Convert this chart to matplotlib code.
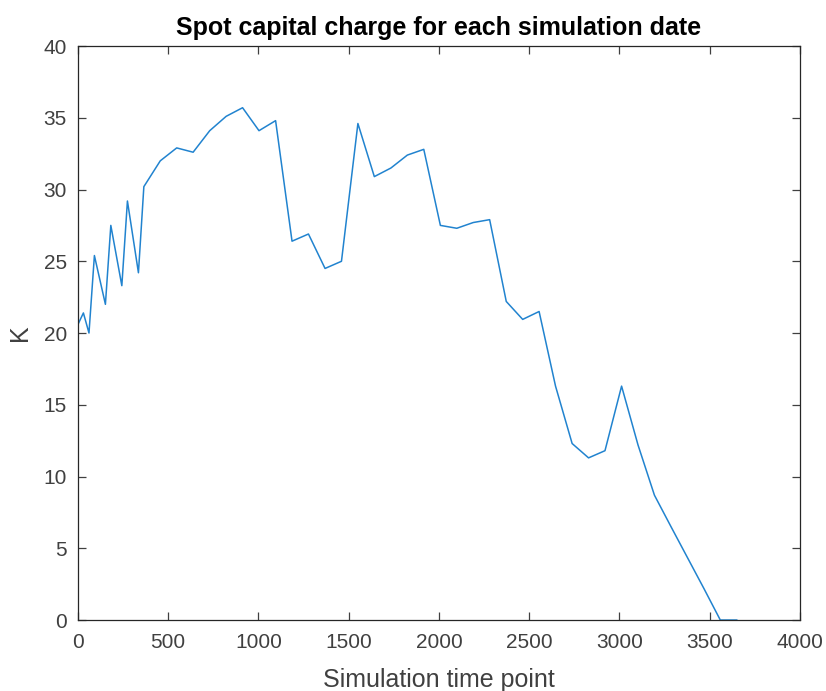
import numpy as np
import matplotlib.pyplot as plt

plt.rcParams['font.family'] = ['Liberation Sans', 'DejaVu Sans']

# simulation time points (days) and spot capital charge K
time_points = [0, 30, 61, 91, 152, 182, 243, 274, 335, 365,
               456, 547, 638, 730, 821, 912, 1003, 1095, 1186, 1277,
               1369, 1460, 1551, 1642, 1734, 1825, 1916, 2008, 2099, 2190,
               2281, 2373, 2464, 2555, 2646, 2738, 2829, 2920, 3012, 3103,
               3194, 3286, 3377, 3468, 3559, 3650]
capital_charge = [20.6, 21.4, 20.0, 25.4, 22.0, 27.5, 23.3, 29.2, 24.2, 30.2,
                  32.0, 32.9, 32.6, 34.1, 35.1, 35.7, 34.1, 34.8, 26.4, 26.9,
                  24.5, 25.0, 34.6, 30.9, 31.5, 32.4, 32.8, 27.5, 27.3, 27.7,
                  27.9, 22.2, 20.95, 21.5, 16.3, 12.3, 11.3, 11.8, 16.3, 12.2,
                  8.7, 6.5, 4.35, 2.2, 0.0, 0.0]

x_ticks = [0, 500, 1000, 1500, 2000, 2500, 3000, 3500, 4000]
y_ticks = [0, 5, 10, 15, 20, 25, 30, 35, 40]

axis_color = '#262626'

fig = plt.figure(figsize=(8.26, 6.91), dpi=100)
ax = fig.add_axes([0.0944, 0.1027, 0.874, 0.8307])

ax.plot(time_points, capital_charge, color='#2183cf', linewidth=1.1)

ax.set_xlim(0, 4000)
ax.set_ylim(0, 40)
ax.set_xticks(x_ticks)
ax.set_yticks(y_ticks)

for spine in ax.spines.values():
    spine.set_color(axis_color)
    spine.set_linewidth(0.9)
ax.tick_params(direction='in', length=5.5, width=0.9, top=True, right=True,
               colors='#404040', labelsize=15)
ax.tick_params(axis='y', pad=8)
ax.tick_params(axis='x', pad=9.5)

ax.set_xlabel('Simulation time point', fontsize=18, color='#404040', labelpad=11)
ax.set_ylabel('K', fontsize=18, color='#404040', labelpad=8)
ax.set_title('Spot capital charge for each simulation date', fontsize=18,
             fontweight='bold', color='black', pad=8)

fig.savefig('out.png', dpi=100)
